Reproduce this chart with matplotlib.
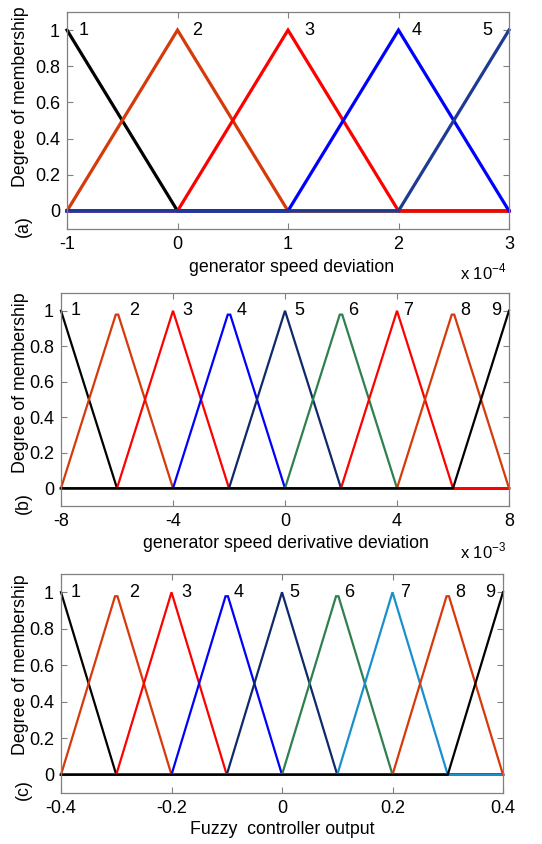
import numpy as np
import matplotlib
matplotlib.use("Agg")
import matplotlib.pyplot as plt

plt.rcParams['font.family'] = ['Liberation Sans', 'DejaVu Sans']
plt.rcParams['mathtext.fontset'] = 'custom'
plt.rcParams['mathtext.rm'] = 'Liberation Sans'

# membership functions: triangle (a, b, c), x in scaled units
# (a) generator speed deviation, x 1e-4
speed_mf = [(-1, -1, 0), (-1, 0, 1), (0, 1, 2), (1, 2, 3), (2, 3, 3)]
speed_peak = [1, 1, 1, 1, 1]
speed_colors = ['black', '#D63A0A', '#FF0000', '#0000FF', '#1F3A93']
speed_label_x = [-0.85, 0.18, 1.19, 2.16, 2.80]

# (b) generator speed derivative deviation, x 1e-3
deriv_mf = [(-8, -8, -6), (-8, -6, -4), (-6, -4, -2), (-4, -2, 0), (-2, 0, 2),
            (0, 2, 4), (2, 4, 6), (4, 6, 8), (6, 8, 8)]
deriv_peak = [1, 0.978, 1, 0.978, 1, 0.978, 1, 0.978, 1]
deriv_colors = ['black', '#D63A0A', '#FF0000', '#0000FF', '#0E2A6B',
                '#2E8050', '#FF0000', '#D63A0A', 'black']
deriv_label_x = [-7.46, -5.39, -3.5, -1.54, 0.5, 2.43, 4.39, 6.43, 7.54]

# (c) fuzzy controller output
out_mf = [(-0.4, -0.4, -0.3), (-0.4, -0.3, -0.2), (-0.3, -0.2, -0.1),
          (-0.2, -0.1, 0.0), (-0.1, 0.0, 0.1), (0.0, 0.1, 0.2),
          (0.1, 0.2, 0.3), (0.2, 0.3, 0.4), (0.3, 0.4, 0.4)]
out_peak = [1, 0.978, 1, 0.978, 1, 0.978, 1, 0.978, 1]
out_colors = ['black', '#D63A0A', '#FF0000', '#0000FF', '#0E2A6B',
              '#2E8050', '#1A8FD0', '#D63A0A', 'black']
out_label_x = [-0.373, -0.268, -0.174, -0.078, 0.022, 0.121, 0.223, 0.322, 0.376]

yticks = [0, 0.2, 0.4, 0.6, 0.8, 1]
ytick_labels = ['0', '0.2', '0.4', '0.6', '0.8', '1']


def mf_line(a, b, c, h, xmin, xmax, flat):
    # polyline of a triangle over the full range; h<1 peaks get a short flat top
    xs, ys = [], []
    if a > xmin:
        xs.append(xmin); ys.append(0)
    if a < b:
        xs.append(a); ys.append(0)
    if h < 1:
        xs += [b - flat, b + flat]; ys += [h, h]
    else:
        xs.append(b); ys.append(h)
    if c > b:
        xs.append(c); ys.append(0)
    if c < xmax:
        xs.append(xmax); ys.append(0)
    return xs, ys


def draw_panel(rect, mfs, peaks, colors, label_x, xlim, xticks, xtick_labels,
               lw, flat):
    ax = fig.add_axes(rect)
    for (a, b, c), h, col in zip(mfs, peaks, colors):
        xs, ys = mf_line(a, b, c, h, xlim[0], xlim[1], flat)
        ax.plot(xs, ys, color=col, lw=lw, solid_joinstyle='miter', clip_on=False)
    for i, x in enumerate(label_x):
        ax.text(x, 1.0, str(i + 1), ha='center', va='center', fontsize=13)
    ax.set_xlim(xlim)
    ax.set_ylim(-0.1, 1.1)
    ax.set_xticks(xticks)
    ax.set_xticklabels(xtick_labels)
    ax.set_yticks(yticks)
    ax.set_yticklabels(ytick_labels)
    ax.tick_params(direction='in', top=True, right=True, length=4,
                   color='#808080', labelsize=13, pad=5)
    for s in ax.spines.values():
        s.set_color('#808080')
        s.set_linewidth(0.9)
    return ax


fig = plt.figure(figsize=(5.42, 8.44), dpi=100)
W, H = 542.0, 844.0


def rect(l, r, t, b):
    return [l / W, 1 - b / H, (r - l) / W, (b - t) / H]


draw_panel(rect(67, 509, 12, 229), speed_mf, speed_peak, speed_colors,
           speed_label_x, (-1, 3), [-1, 0, 1, 2, 3],
           ['-1', '0', '1', '2', '3'], 2.3, 0)
draw_panel(rect(61, 509, 293, 506), deriv_mf, deriv_peak, deriv_colors,
           deriv_label_x, (-8, 8), [-8, -4, 0, 4, 8],
           ['-8', '-4', '0', '4', '8'], 1.6, 0.045)
draw_panel(rect(61, 503, 574, 793), out_mf, out_peak, out_colors,
           out_label_x, (-0.4, 0.4), [-0.4, -0.2, 0, 0.2, 0.4],
           ['-0.4', '-0.2', '0', '0.2', '0.4'], 1.6, 0.0022)


def ftext(x, y, s, **kw):
    fig.text(x / W, 1 - y / H, s, **kw)


fs = 12.8
for yc, tag, ty in [(97, '(a)', 226), (383, '(b)', 503), (665, '(c)', 790)]:
    ftext(21, yc, 'Degree of membership', rotation=90, ha='center',
          va='center', fontsize=fs)
    ftext(23, ty, tag, rotation=90, ha='center', va='center', fontsize=fs)

ftext(292, 267, 'generator speed deviation', ha='center', va='center', fontsize=fs)
ftext(286, 543, 'generator speed derivative deviation', ha='center',
      va='center', fontsize=fs)
ftext(282, 830, 'Fuzzy  controller output', ha='center', va='center', fontsize=fs)

ftext(483, 272, r'x 10$^{-4}$', ha='center', va='center', fontsize=12)
ftext(483, 551, r'x 10$^{-3}$', ha='center', va='center', fontsize=12)

fig.savefig('out.png', dpi=100)
